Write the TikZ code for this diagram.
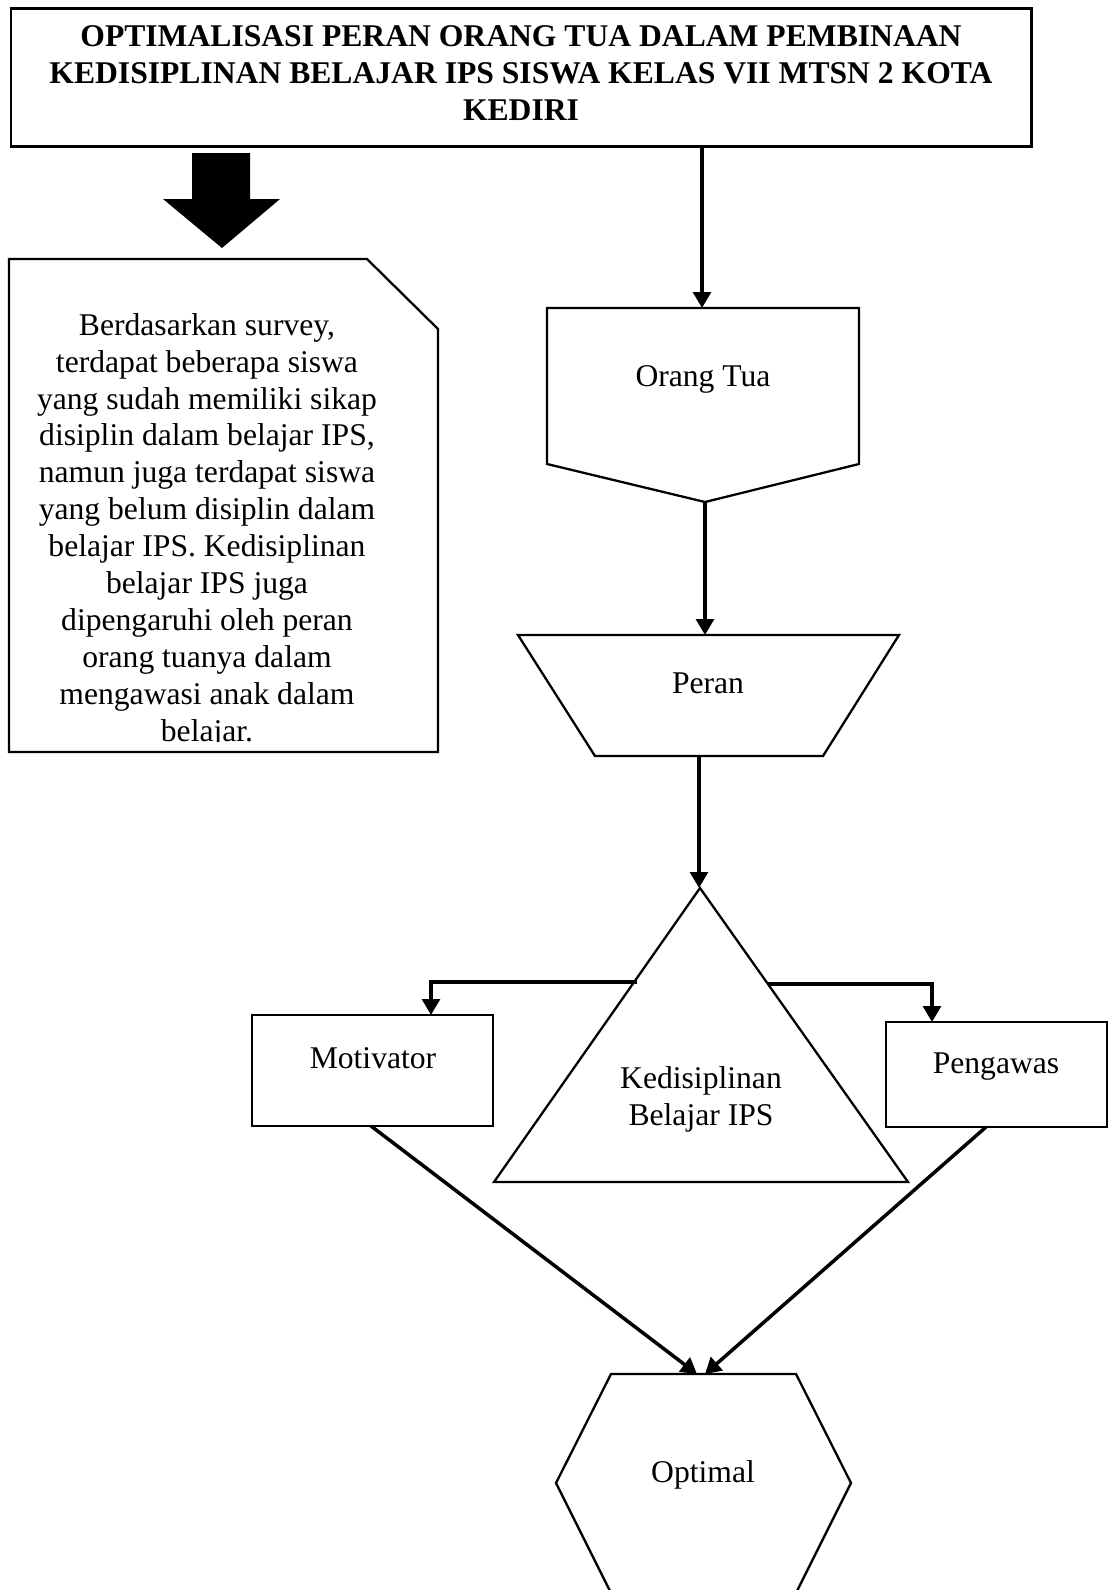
\documentclass[tikz,border=0pt]{standalone}
\usepackage{fontspec}
\setmainfont{Liberation Serif}
\usetikzlibrary{arrows.meta}

\tikzset{
  outline/.style={line width=1.3pt, line join=miter},
  conn/.style={line width=2pt, -{Triangle[width=10pt,length=9pt]}},
  txt/.style={font=\fontsize{18}{21}\selectfont, inner sep=0pt},
  judultxt/.style={font=\fontsize{18}{21}\selectfont\bfseries, inner sep=0pt, align=center}
}

\begin{document}
\begin{tikzpicture}[x=0.02cm, y=-0.02cm]
  \useasboundingbox (0,0) rectangle (1109,1590);
  \fill[white] (0,0) rectangle (1109,1590);

  \draw[line width=1.7pt] (11,8) rectangle (1031,146);
  \node[judultxt, anchor=north] (judul) at (521,25) {OPTIMALISASI PERAN ORANG TUA DALAM PEMBINAAN\\KEDISIPLINAN BELAJAR IPS SISWA KELAS VII MTSN 2 KOTA\\KEDIRI};

  \fill (192,153) -- (250,153) -- (250,199) -- (280,199) -- (222,248) -- (163,199) -- (192,199) -- cycle;

  \begin{scope}
    \clip (9,259) rectangle (438,741);
    \node[txt, align=center, anchor=north] (survey) at (207,313) {Berdasarkan survey,\\terdapat beberapa siswa\\yang sudah memiliki sikap\\disiplin dalam belajar IPS,\\namun juga terdapat siswa\\yang belum disiplin dalam\\belajar IPS. Kedisiplinan\\belajar IPS juga\\dipengaruhi oleh peran\\orang tuanya dalam\\mengawasi anak dalam\\belajar.};
  \end{scope}
  \draw[outline] (9,259) -- (367,259) -- (438,329) -- (438,752) -- (9,752) -- cycle;

  \draw[outline] (547,308) -- (859,308) -- (859,464) -- (705,502) -- (547,464) -- cycle;
  \node[txt, anchor=base] (ortu) at (703,386) {Orang Tua};

  \draw[outline] (518,635) -- (899,635) -- (823,756) -- (595,756) -- cycle;
  \node[txt, anchor=base] (peran) at (708,693) {Peran};

  \draw[outline] (700,888) -- (908,1182) -- (494,1182) -- cycle;
  \node[txt, align=center, anchor=north] (disiplin) at (701,1066) {Kedisiplinan\\Belajar IPS};

  \draw[outline] (252,1015) rectangle (493,1126);
  \node[txt, anchor=base] (motivator) at (373,1068) {Motivator};

  \draw[outline] (886,1022) rectangle (1107,1127);
  \node[txt, anchor=base] (pengawas) at (996,1073) {Pengawas};

  \draw[outline] (611,1374) -- (796,1374) -- (851,1483) -- (796,1593) -- (611,1593) -- (556,1483) -- cycle;
  \node[txt, anchor=base] (optimal) at (703,1482) {Optimal};

  \coordinate (judul-b) at (702,146);
  \coordinate (ortu-t) at (702,308);
  \coordinate (ortu-b) at (705,502);
  \coordinate (peran-t) at (705,635);
  \coordinate (peran-b) at (699,756);
  \coordinate (puncak) at (699,888);
  \coordinate (kiri) at (637,982);
  \coordinate (motivator-t) at (431,1015);
  \coordinate (kanan) at (768,984);
  \coordinate (pengawas-t) at (932,1022);
  \coordinate (motivator-b) at (371,1126);
  \coordinate (pengawas-b) at (986,1127);
  \coordinate (optimal-t1) at (697,1374);
  \coordinate (optimal-t2) at (705,1374);

  \draw[conn] (judul-b) -- (ortu-t);
  \draw[conn] (ortu-b) -- (peran-t);
  \draw[conn] (peran-b) -- (puncak);
  \draw[conn] (kiri) -| (motivator-t);
  \draw[conn] (kanan) -| (pengawas-t);
  \draw[conn] (motivator-b) -- (optimal-t1);
  \draw[conn] (pengawas-b) -- (optimal-t2);
\end{tikzpicture}
\end{document}
